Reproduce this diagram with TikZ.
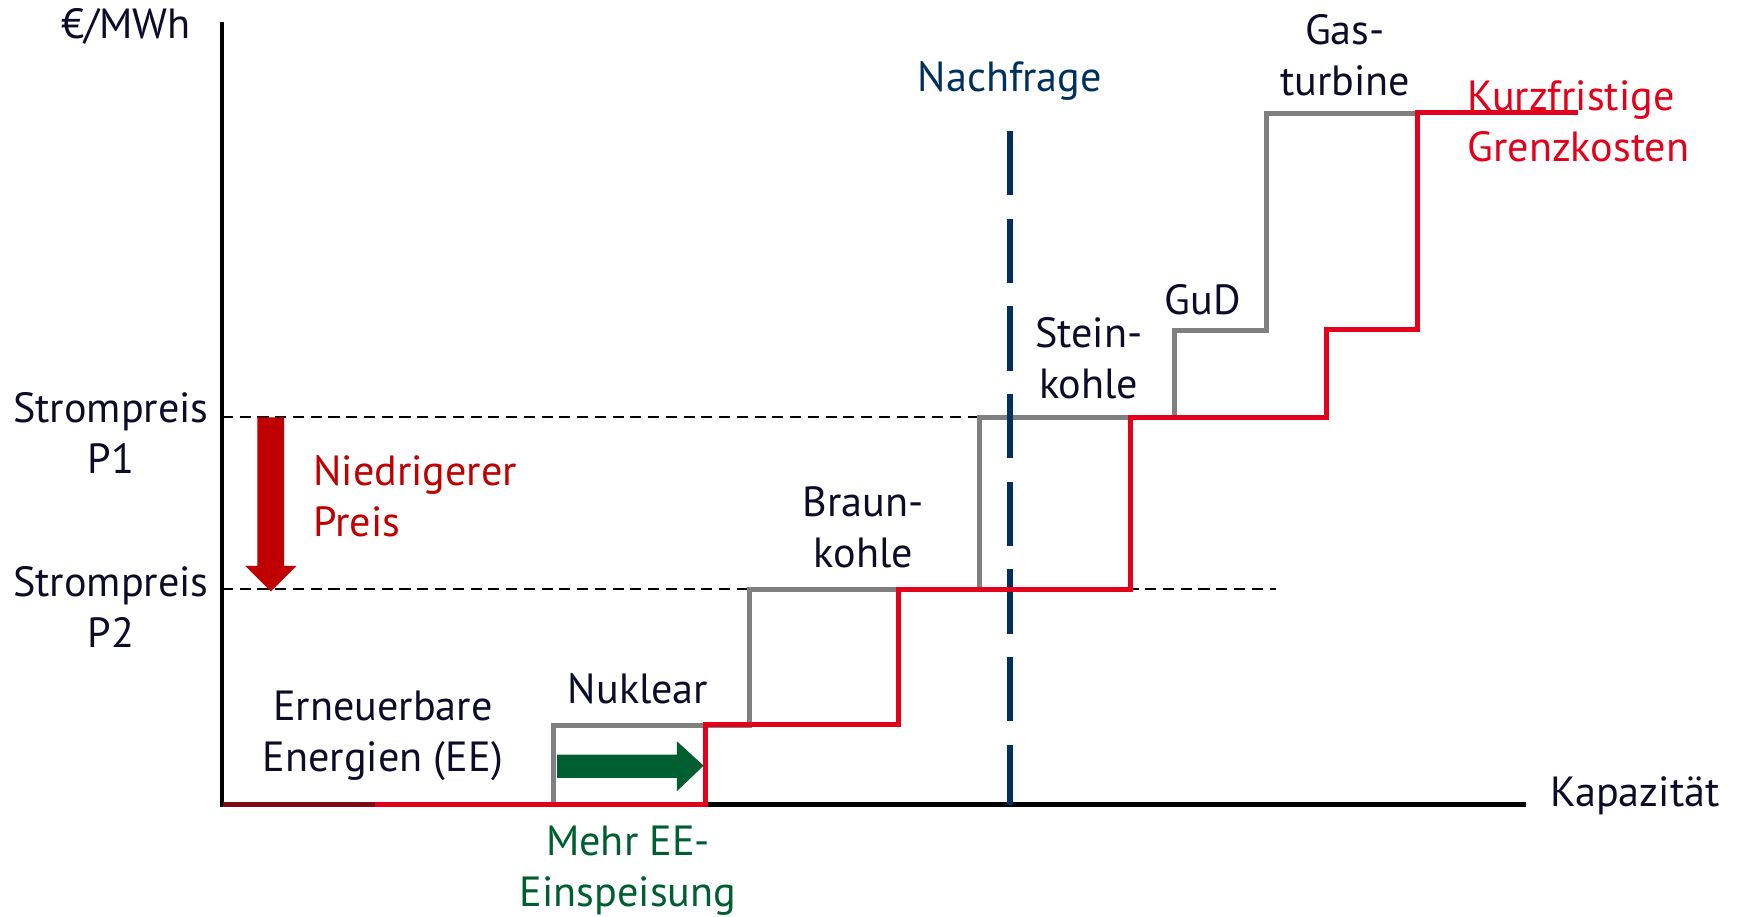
\documentclass[tikz,border=0pt]{standalone}
\usepackage{fontspec}
\setmainfont{PT Sans}
\usepackage{tikz}

\definecolor{txtdark}{RGB}{12,12,40}
\definecolor{kostred}{RGB}{226,0,26}
\definecolor{oldred}{RGB}{125,10,20}
\definecolor{pricered}{RGB}{192,0,0}
\definecolor{stepgray}{RGB}{128,128,128}
\definecolor{demandblue}{RGB}{0,48,94}
\definecolor{eegreen}{RGB}{0,94,48}

\tikzset{
  lbl/.style={inner sep=0pt, text=txtdark, align=center,
    font=\fontsize{19}{23}\selectfont},
  oldcurve/.style={stepgray, line width=2.3pt},
  newcurve/.style={kostred, line width=2.3pt},
  pricelevel/.style={line width=0.8pt, dash pattern=on 5pt off 3pt},
}

\begin{document}
\begin{tikzpicture}[x=0.5pt,y=0.5pt,yscale=-1,xscale=1]
\useasboundingbox (0,0) rectangle (1568,826);

%Price levels
\draw [pricelevel] (200,376) -- (910,376) ;
\draw [pricelevel] (200,531) -- (1150,531) ;

%Axes
\draw [line width=2.2pt] (200,20) -- (200,727) ;
\draw [line width=2.2pt] (198,725) -- (1375,725) ;

%Old merit order
\draw [oldcurve] (499,725) -- (499,654) -- (675,654) -- (675,531) -- (883,531) -- (883,376) -- (1058,376) -- (1058,298) -- (1141,298) -- (1141,102) -- (1277,102) ;

%Demand
\draw [demandblue, line width=3pt, dash pattern=on 29pt off 10.5pt] (910,118) -- (910,725) ;

%Short term marginal costs
\draw [oldred, line width=2.3pt] (201,725) -- (338,725) ;
\draw [newcurve] (338,725) -- (636,725) -- (636,653) -- (810,653) -- (810,531) -- (1019,531) -- (1019,376) -- (1195,376) -- (1195,297) -- (1277,297) -- (1277,101) -- (1422,101) ;

%Lower price arrow
\fill [pricered] (232,376) -- (256,376) -- (256,510) -- (267,510) -- (244,533) -- (221,510) -- (232,510) -- cycle ;
%More EE arrow
\fill [eegreen] (502,680) -- (610,680) -- (610,668) -- (634,690) -- (610,713) -- (610,701) -- (502,701) -- cycle ;

% Text Node
\node [lbl, anchor=east] (eur) at (172,24) {€/MWh};
% Text Node
\node [lbl] (sp1) at (100,390) {Strompreis\\P1};
% Text Node
\node [lbl] (sp2) at (100,547) {Strompreis\\P2};
% Text Node
\node [lbl, anchor=west, align=left, text=pricered] (niedrig) at (282,447) {Niedrigerer\\Preis};
% Text Node
\node [lbl] (ee) at (345,663) {Erneuerbare\\Energien (EE)};
% Text Node
\node [lbl] (nuk) at (575,621) {Nuklear};
% Text Node
\node [lbl] (braun) at (778,475) {Braun-\\kohle};
% Text Node
\node [lbl] (stein) at (981,323) {Stein-\\kohle};
% Text Node
\node [lbl] (gud) at (1084,270) {GuD};
% Text Node
\node [lbl] (gas) at (1212,50) {Gas-\\turbine};
% Text Node
\node [lbl, anchor=west, align=left, text=kostred] (kurz) at (1322,109) {Kurzfristige\\Grenzkosten};
% Text Node
\node [lbl, text=demandblue] (nach) at (910,73) {Nachfrage};
% Text Node
\node [lbl, text=eegreen] (mehr) at (566,785) {Mehr EE-\\Einspeisung};
% Text Node
\node [lbl, anchor=west] (kap) at (1397,717) {Kapazität};

\end{tikzpicture}
\end{document}
